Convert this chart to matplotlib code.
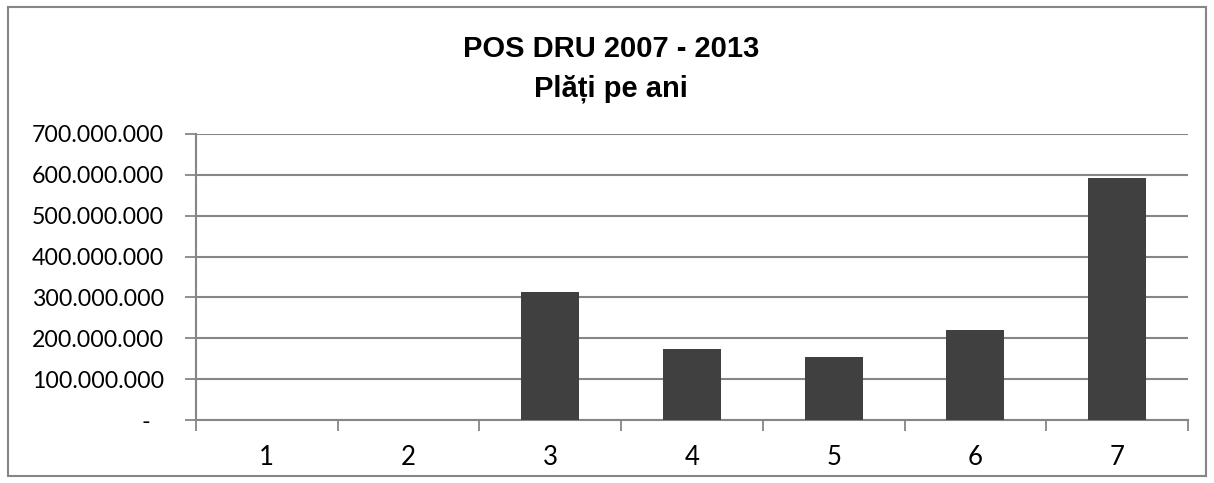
import matplotlib
matplotlib.use("Agg")
import matplotlib.pyplot as plt
from matplotlib.patches import Rectangle
from matplotlib.ticker import FixedLocator, FuncFormatter

# data
years = [1, 2, 3, 4, 5, 6, 7]
payments = [0, 0, 314_000_000, 175_000_000, 153_000_000, 220_000_000, 592_000_000]
y_ticks = [0, 100_000_000, 200_000_000, 300_000_000, 400_000_000,
           500_000_000, 600_000_000, 700_000_000]
title = "POS DRU 2007 - 2013\nPlăți pe ani"

grey = "#868686"

fig = plt.figure(figsize=(12.14, 4.83), dpi=100)
ax = fig.add_axes([0.1614, 0.1304, 0.8172, 0.5922])

ax.bar(years, payments, width=0.41, color="#404040", zorder=3)

ax.set_xlim(0.5, 7.5)
ax.set_ylim(0, 700_000_000)


def fmt(v, pos):
    if v == 0:
        return "-\u2007"
    return f"{int(v):,}".replace(",", ".")


ax.yaxis.set_major_locator(FixedLocator(y_ticks))
ax.yaxis.set_major_formatter(FuncFormatter(fmt))
ax.grid(axis="y", color=grey, linewidth=1.5, zorder=0)

# category boundaries get the tick marks, labels sit at the centres
ax.xaxis.set_major_locator(FixedLocator([y + 0.5 for y in [0] + years]))
ax.xaxis.set_major_formatter(FuncFormatter(lambda v, p: ""))
ax.xaxis.set_minor_locator(FixedLocator(years))
ax.xaxis.set_minor_formatter(FuncFormatter(lambda v, p: str(int(round(v)))))
ax.tick_params(axis="x", which="major", length=8, width=1.3, color=grey, direction="out")
ax.tick_params(axis="x", which="minor", length=0, pad=18)
ax.tick_params(axis="y", length=8, width=1.3, color=grey, pad=15)

for lab in ax.get_yticklabels():
    lab.set_fontfamily("Lato")
    lab.set_fontsize(16.7)
for lab in ax.get_xticklabels(which="minor"):
    lab.set_fontfamily("Lato")
    lab.set_fontsize(18.5)

for side in ["top", "right"]:
    ax.spines[side].set_visible(False)
for side in ["left", "bottom"]:
    ax.spines[side].set_color(grey)
    ax.spines[side].set_linewidth(1.5)

fig.text(0.503, 0.857, title, ha="center", va="center", fontsize=21,
         fontweight="bold", family="Liberation Sans", linespacing=1.55)

# chart area border
fig.patches.append(Rectangle((8 / 1214, 7 / 483), 1198 / 1214, 469 / 483,
                             transform=fig.transFigure, fill=False,
                             edgecolor=grey, linewidth=1.5))

fig.savefig("out.png", dpi=100)
